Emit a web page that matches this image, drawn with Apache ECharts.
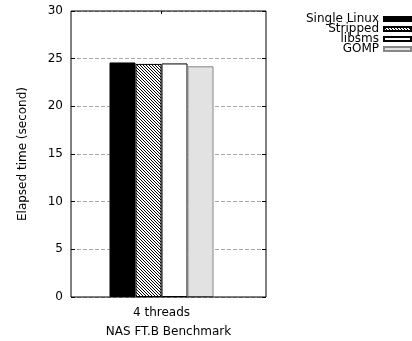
<!DOCTYPE html>
<html><head><meta charset="utf-8">
<script src="https://cdn.jsdelivr.net/npm/echarts@6/dist/echarts.min.js"></script>
<style>html,body{margin:0;padding:0;background:#fff}#c{width:412px;height:341px}</style>
</head><body><div id="c"></div>
<script>
var categories = ['4 threads'];
var seriesNames = ['Single Linux', 'Stripped', 'libsms', 'GOMP'];
var singleLinux = [24.6];
var stripped = [24.45];
var libsms = [24.5];
var gomp = [24.2];
var yTicks = [0, 5, 10, 15, 20, 25, 30];

function hatch() {
  var c = document.createElement('canvas');
  c.width = 3; c.height = 3;
  var g = c.getContext('2d');
  g.fillStyle = '#fff'; g.fillRect(0, 0, 3, 3);
  g.fillStyle = '#000';
  for (var i = 0; i < 3; i++) g.fillRect(i, i, 1, 1);
  return c;
}
var hatchImg = hatch();
var font = 'DejaVu Sans';
var fs = 12;
var chart = echarts.init(document.getElementById('c'), null, {renderer: 'canvas'});
var styles = [
  {color: '#000000', borderColor: '#000', borderWidth: 1},
  {color: {image: hatchImg, repeat: 'repeat'}, borderColor: '#000', borderWidth: 1},
  {color: '#ffffff', borderColor: '#000', borderWidth: 1},
  {color: '#e2e2e2', borderColor: '#888', borderWidth: 1}
];
var datas = [singleLinux, stripped, libsms, gomp];
var series = seriesNames.map(function (n, i) {
  return {name: n, type: 'bar', xAxisIndex: 0, yAxisIndex: 0, data: datas[i],
    barWidth: 26, barGap: '0%', itemStyle: styles[i]};
});
chart.setOption({
  animation: false,
  textStyle: {fontFamily: font},
  legend: {orient: 'vertical', right: 0, top: 13, align: 'right', padding: 0,
    icon: 'rect', itemWidth: 27, itemHeight: 4, itemGap: -2,
    textStyle: {fontFamily: font, fontSize: fs, color: '#000', lineHeight: 10, padding: 0},
    data: seriesNames},
  grid: [
    {left: 71, top: 11, width: 181, height: 286, show: false, outerBoundsMode: 'none'},
    {left: 71, top: 11, width: 195, height: 286, show: true, borderColor: '#000', borderWidth: 1, backgroundColor: 'transparent', z: 5, outerBoundsMode: 'none'}
  ],
  xAxis: [
    {gridIndex: 0, type: 'category', data: categories,
      axisLine: {show: false}, axisTick: {show: false},
      axisLabel: {fontFamily: font, fontSize: fs, color: '#000', margin: 10}},
    {gridIndex: 0, type: 'category', data: categories, position: 'top',
      axisLine: {show: false}, axisLabel: {show: false},
      axisTick: {show: true, inside: true, length: 3, alignWithLabel: true, lineStyle: {color: '#000'}}},
    {gridIndex: 1, type: 'value', show: true, min: 0, max: 1,
      axisLine: {show: false}, axisTick: {show: false}, axisLabel: {show: false}, splitLine: {show: false},
      name: 'NAS FT.B Benchmark', nameLocation: 'middle', nameGap: 29,
      nameTextStyle: {fontFamily: font, fontSize: fs, color: '#000'}}
  ],
  yAxis: [
    {gridIndex: 0, type: 'value', min: 0, max: 30, show: false},
    {gridIndex: 1, type: 'value', min: yTicks[0], max: yTicks[yTicks.length - 1], interval: 5,
      axisLine: {show: false},
      axisTick: {show: true, inside: true, length: 4, lineStyle: {color: '#000'}},
      axisLabel: {fontFamily: font, fontSize: fs, color: '#000', margin: 8},
      splitLine: {show: true, lineStyle: {color: '#a8a8a8', type: [4, 2], width: 1}},
      name: 'Elapsed time (second)', nameLocation: 'middle', nameGap: 42,
      nameTextStyle: {fontFamily: font, fontSize: fs, color: '#000'}},
    {gridIndex: 1, type: 'value', min: 0, max: 30, interval: 5, position: 'right',
      axisLine: {show: false}, axisLabel: {show: false}, splitLine: {show: false},
      axisTick: {show: true, inside: true, length: 4, lineStyle: {color: '#000'}}}
  ],
  series: series
});
</script></body></html>
